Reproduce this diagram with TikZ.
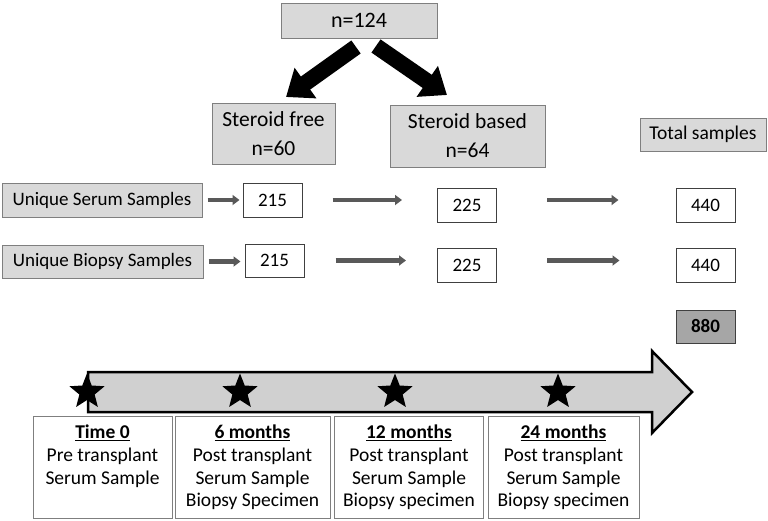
\documentclass[tikz,border=0pt]{standalone}
\usepackage{fontspec}
\setmainfont{Carlito}
\usetikzlibrary{arrows.meta,shapes.geometric}
\definecolor{boxgray}{HTML}{D9D9D9}
\definecolor{boxedge}{HTML}{7F7F7F}
\definecolor{darkfill}{HTML}{A6A6A6}
\definecolor{arrowgray}{HTML}{595959}
\definecolor{tlfill}{HTML}{D0D0D0}
\begin{document}
\begin{tikzpicture}[x=1pt,y=-1pt,
  graybox/.style={draw=boxedge, fill=boxgray, line width=1pt, inner sep=0pt, align=center},
  whitebox/.style={draw=black!75, fill=white, line width=1pt, inner sep=0pt,
    minimum width=59pt, minimum height=34pt, font=\fontsize{19}{22}\selectfont},
  tlbox/.style={draw=boxedge, fill=white, line width=1pt, inner sep=0pt, minimum height=102pt},
  tltext/.style={anchor=north, align=center, inner sep=0pt, font=\fontsize{19.5}{22.7}\selectfont},
  bigarrow/.style={line width=16pt, -{Triangle[length=24pt,width=36pt]}},
  smallarrow/.style={draw=arrowgray, line width=4.5pt, -{Triangle[length=7pt,width=10pt]}},
  starmark/.style={star, star points=5, star point ratio=2.3, fill=black, minimum size=37pt, inner sep=0pt}
]
\useasboundingbox (0,0) rectangle (768,520);

% top boxes
\node[graybox, minimum width=156pt, minimum height=35pt, font=\fontsize{22}{26}\selectfont] (n124) at (359,20.5) {n=124};
\node[graybox, minimum width=123pt, minimum height=61pt, font=\fontsize{21.5}{29}\selectfont] (sf) at (273.5,134) {Steroid free\\n=60};
\node[graybox, minimum width=155pt, minimum height=62pt, font=\fontsize{21.5}{29}\selectfont] (sb) at (467.5,136) {Steroid based\\n=64};
\node[graybox, minimum width=126pt, minimum height=33pt, font=\fontsize{19.5}{23}\selectfont] (tot) at (703,134.5) {Total samples};

% big black arrows
\coordinate (la) at (356,47);
\coordinate (ra) at (376,46);
\draw[bigarrow] (la) -- (286,97);
\draw[bigarrow] (ra) -- (447,95);

% rows
\node[graybox, minimum width=200pt, minimum height=34pt, font=\fontsize{19}{22}\selectfont] (us) at (102,200) {Unique Serum Samples};
\node[graybox, minimum width=201pt, minimum height=33pt, font=\fontsize{19}{22}\selectfont] (ub) at (102.5,261.5) {Unique Biopsy Samples};

\node[whitebox] (s215) at (272.5,200) {215};
\node[whitebox] (s225) at (467,205) {225};
\node[whitebox] (s440) at (705.5,205) {440};
\node[whitebox, minimum height=33pt] (b215) at (274.5,260.5) {215};
\node[whitebox] (b225) at (467,265) {225};
\node[whitebox] (b440) at (705.5,265) {440};
\node[whitebox, fill=darkfill, minimum height=33pt, font=\fontsize{19}{22}\selectfont\bfseries] (tot880) at (705.5,326.5) {880};

\draw[smallarrow, shorten <=5pt, shorten >=3pt] (us.east) -- (us.east -| s215.west);
\draw[smallarrow, shorten <=30pt, shorten >=35pt] (s215.east) -- (s215.east -| s225.west);
\draw[smallarrow, shorten <=50pt, shorten >=57pt] (s225.east |- s215.east) -- (s215.east -| s440.west);
\draw[smallarrow, shorten <=5pt, shorten >=4pt] (ub.east) -- (ub.east -| b215.west);
\draw[smallarrow, shorten <=31pt, shorten >=31pt] (b215.east) -- (b215.east -| b225.west);
\draw[smallarrow, shorten <=50pt, shorten >=56pt] (b225.east |- b215.east) -- (b215.east -| b440.west);

% timeline arrow
\draw[fill=tlfill, line width=2.5pt, line join=miter] (88,372) -- (652,372) -- (652,351) -- (692,392) -- (652,433) -- (652,412) -- (88,412) -- cycle;

% timeline boxes
\node[tlbox, minimum width=139pt] (t0) at (102.5,467) {};
\node[tlbox, minimum width=155pt] (t6) at (252.5,467) {};
\node[tlbox, minimum width=149pt] (t12) at (409,467) {};
\node[tlbox, minimum width=151pt] (t24) at (563.5,467) {};
\node[tltext] (t0t) at ([yshift=-9.5pt]t0.north) {\underline{\textbf{Time 0}}\\Pre transplant\\Serum Sample};
\node[tltext] (t6t) at ([yshift=-9.5pt]t6.north) {\underline{\textbf{6 months}}\\Post transplant\\Serum Sample\\Biopsy Specimen};
\node[tltext] (t12t) at ([yshift=-9.5pt]t12.north) {\underline{\textbf{12 months}}\\Post transplant\\Serum Sample\\Biopsy specimen};
\node[tltext] (t24t) at ([yshift=-9.5pt]t24.north) {\underline{\textbf{24 months}}\\Post transplant\\Serum Sample\\Biopsy specimen};

% stars
\node[starmark] (st0) at (87,392) {};
\node[starmark] (st6) at (240,392) {};
\node[starmark] (st12) at (395,392) {};
\node[starmark] (st24) at (558,392) {};
\end{tikzpicture}
\end{document}
